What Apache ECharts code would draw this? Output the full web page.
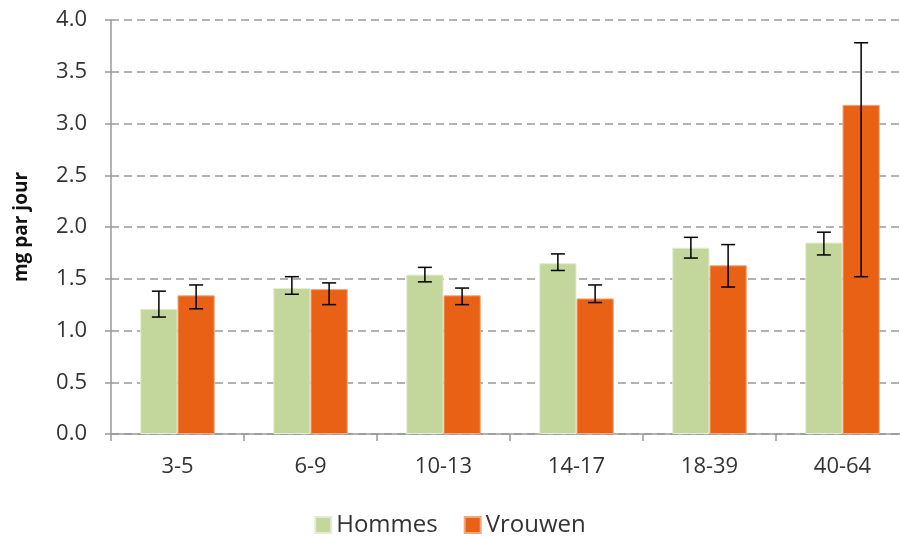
<!DOCTYPE html>
<html>
<head>
<meta charset="utf-8">
<script src="https://cdn.jsdelivr.net/npm/echarts@6/dist/echarts.min.js"></script>
<style>
html,body{margin:0;padding:0;background:#fff;}
#chart{width:900px;height:540px;}
</style>
</head>
<body>
<div id="chart"></div>
<script>
var categories = ['3-5', '6-9', '10-13', '14-17', '18-39', '40-64'];
var hommes = [1.21, 1.41, 1.54, 1.65, 1.80, 1.85];
var hommesLow = [1.13, 1.35, 1.47, 1.58, 1.70, 1.73];
var hommesHigh = [1.38, 1.52, 1.61, 1.74, 1.90, 1.95];
var vrouwen = [1.34, 1.40, 1.34, 1.31, 1.63, 3.18];
var vrouwenLow = [1.21, 1.25, 1.25, 1.27, 1.42, 1.52];
var vrouwenHigh = [1.44, 1.46, 1.41, 1.44, 1.83, 3.78];
var yTicks = [0, 0.5, 1, 1.5, 2, 2.5, 3, 3.5, 4];

var GREEN = '#c3d69b', ORANGE = '#e96115';
var catGap = 0.44;
var font = '"Open Sans", "Liberation Sans", sans-serif';

function errItem(side){
	// side: -1 left bar, +1 right bar
	return function(params, api){
		var i = api.value(0);
		var lo = api.coord([i, api.value(1)]);
		var hi = api.coord([i, api.value(2)]);
		var band = api.size([1, 0])[0];
		var bw = band * (1 - catGap) / 2;
		var x = lo[0] + side * bw / 2;
		var cap = 7;
		var st = {stroke:'#000', lineWidth:1.5};
		return {type:'group', children:[
			{type:'line', shape:{x1:x, y1:lo[1], x2:x, y2:hi[1]}, style:st},
			{type:'line', shape:{x1:x-cap, y1:lo[1], x2:x+cap, y2:lo[1]}, style:st},
			{type:'line', shape:{x1:x-cap, y1:hi[1], x2:x+cap, y2:hi[1]}, style:st}
		]};
	};
}

var chart = echarts.init(document.getElementById('chart'));
chart.setOption({
	animation:false,
	textStyle:{fontFamily:font},
	grid:{left:111, top:20, width:798, height:414, outerBoundsMode:'none', containLabel:false},
	legend:{
		bottom:-2, left:'center',
		itemWidth:16, itemHeight:16, itemGap:26,
		icon:'rect',
		textStyle:{fontSize:24, color:'#333', fontFamily:font},
		data:['Hommes', 'Vrouwen']
	},
	xAxis:{
		type:'category',
		data:categories,
		axisLine:{lineStyle:{color:'#999', width:1.5}},
		axisTick:{show:true, length:7, lineStyle:{color:'#999', width:1.5}},
		axisLabel:{fontSize:22, color:'#333', margin:22}
	},
	yAxis:{
		type:'value',
		min:0, max:4, interval:0.5,
		name:'mg par jour',
		nameLocation:'middle',
		nameGap:80,
		nameTextStyle:{fontSize:19, fontWeight:'bold', color:'#111', fontFamily:font},
		axisLine:{show:true, lineStyle:{color:'#999', width:1.5}},
		axisTick:{show:true, length:6, lineStyle:{color:'#999', width:1.5}},
		axisLabel:{fontSize:22, color:'#333', margin:24,
			formatter:function(v){ return yTicks.indexOf(v) >= 0 ? v.toFixed(1) : ''; }},
		splitLine:{lineStyle:{color:'#999', width:1.5, type:[8,5]}}
	},
	series:[
		{name:'Hommes', type:'bar', data:hommes, barGap:'0%', barCategoryGap:(catGap*100)+'%',
			itemStyle:{color:GREEN, borderColor:'#e4edd2', borderWidth:1}},
		{name:'Vrouwen', type:'bar', data:vrouwen,
			itemStyle:{color:ORANGE, borderColor:'#f3a77c', borderWidth:1}},
		{type:'custom', renderItem:errItem(-1), z:10,
			data:categories.map(function(c, i){ return [i, hommesLow[i], hommesHigh[i]]; })},
		{type:'custom', renderItem:errItem(1), z:10,
			data:categories.map(function(c, i){ return [i, vrouwenLow[i], vrouwenHigh[i]]; })}
	]
});
</script>
</body>
</html>
